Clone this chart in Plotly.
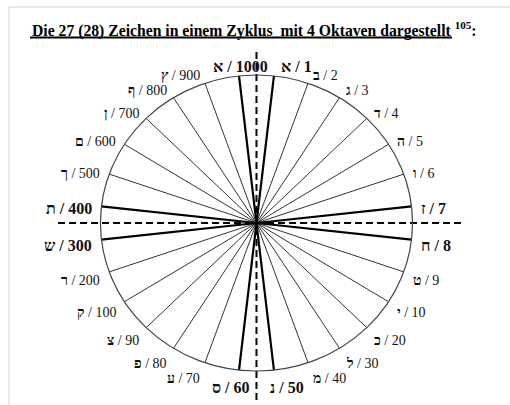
import math
import plotly.graph_objects as go

# ---- data ----
letters = ["א", "ב", "ג", "ד", "ה", "ו", "ז", "ח", "ט",
           "י", "כ", "ל", "מ", "נ", "ס", "ע", "פ", "צ",
           "ק", "ר", "ש", "ת", "ך", "ם", "ן", "ף", "ץ", "א"]
values = [1, 2, 3, 4, 5, 6, 7, 8, 9,
          10, 20, 30, 40, 50, 60, 70, 80, 90,
          100, 200, 300, 400, 500, 600, 700, 800, 900, 1000]
title_text = "Die 27 (28) Zeichen in einem Zyklus\u00a0 mit 4 Oktaven dargestellt"
footnote = "105"

N = len(values)
W, H = 510, 405
FONT = "Liberation Serif, Times New Roman, serif"

fig = go.Figure()

thin_x, thin_y, bold_x, bold_y = [], [], [], []
annotations = []
for i, (let, val) in enumerate(zip(letters, values)):
    ang = math.radians((i + 0.5) * 360.0 / N)
    s, c = math.sin(ang), math.cos(ang)
    bold = (i % 7) in (0, 6)
    if bold:
        bold_x += [0, s, None]
        bold_y += [0, c, None]
    else:
        thin_x += [0, s, None]
        thin_y += [0, c, None]
    # label
    ly = -0.027 + 1.088 * c
    if abs(s) < 0.2:
        lx = 0.045 + 0.03 * c + 0.18 * (1 if s > 0 else -1)
        xa = "center"
    else:
        lx = 1.051 * s
        xa = "left" if s > 0 else "right"
    if bold:
        txt = f"<b>{let}\u200e / {val}</b>"
    else:
        txt = f"<b>{let}</b>\u200e / {val}"
    annotations.append(dict(
        x=lx, y=ly, xref="x", yref="y", text=txt, showarrow=False,
        xanchor=xa, yanchor="middle",
        font=dict(family=FONT, size=16 if bold else 14, color="#111"),
    ))

fig.add_trace(go.Scatter(x=thin_x, y=thin_y, mode="lines",
                         line=dict(color="#333", width=1), hoverinfo="skip"))
fig.add_trace(go.Scatter(x=bold_x, y=bold_y, mode="lines",
                         line=dict(color="#000", width=2.2), hoverinfo="skip"))
# dashed axes
fig.add_trace(go.Scatter(x=[0, 0], y=[1.155, -1.196], mode="lines",
                         line=dict(color="#000", width=2, dash="7px,4px"),
                         hoverinfo="skip"))
fig.add_trace(go.Scatter(x=[-1.272, 1.337], y=[0, 0], mode="lines",
                         line=dict(color="#000", width=2, dash="7px,4px"),
                         hoverinfo="skip"))

shapes = [
    dict(type="circle", xref="x", yref="y", x0=-1, x1=1, y0=-1, y1=1,
         line=dict(color="#444", width=1.2)),
    dict(type="line", xref="paper", yref="paper",
         x0=9 / W, x1=9 / W, y0=1 - 7 / H, y1=0,
         line=dict(color="#d0d0d0", width=1)),
    dict(type="line", xref="paper", yref="paper",
         x0=9 / W, x1=1, y0=1 - 7 / H, y1=1 - 7 / H,
         line=dict(color="#d0d0d0", width=1)),
    # title underline
    dict(type="line", xref="paper", yref="paper",
         x0=30 / W, x1=452 / W, y0=1 - 37.5 / H, y1=1 - 37.5 / H,
         line=dict(color="#000", width=1.8)),
]

annotations.append(dict(
    x=30 / W, y=1 - 29 / H, xref="paper", yref="paper",
    text=f"<b>{title_text} <sup>{footnote}</sup>:</b>",
    showarrow=False, xanchor="left", yanchor="middle",
    font=dict(family=FONT, size=15.7, color="#000"),
))

fig.update_layout(
    width=W, height=H,
    margin=dict(l=0, r=0, t=0, b=0),
    paper_bgcolor="white", plot_bgcolor="white",
    showlegend=False,
    xaxis=dict(range=[-1.644, 1.625], visible=False, fixedrange=True),
    yaxis=dict(range=[-1.2297, 1.5068], visible=False, fixedrange=True),
    shapes=shapes, annotations=annotations,
)

fig.write_html("out.html", config={"displayModeBar": False},
               post_script="document.body.style.margin='0';document.body.style.padding='0';")
